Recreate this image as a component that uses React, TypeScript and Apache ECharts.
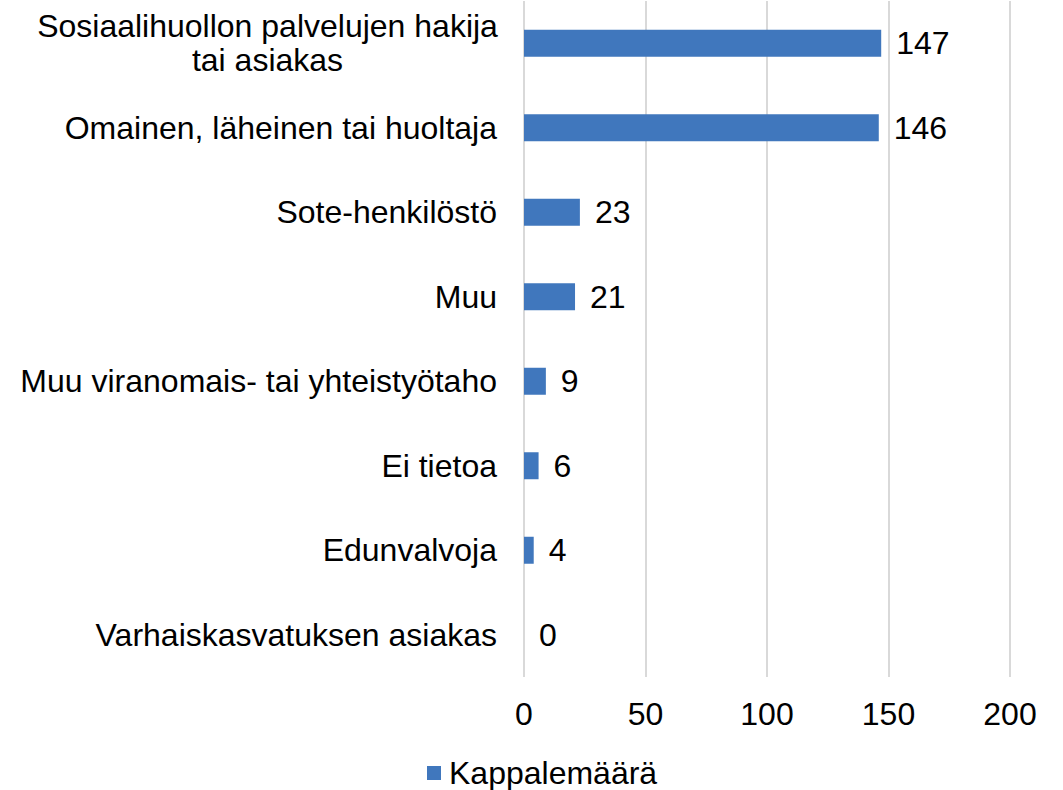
import React, { useEffect, useRef } from "react";
import * as echarts from "echarts";

const categories = [
  "Sosiaalihuollon palvelujen hakija\ntai asiakas",
  "Omainen, läheinen tai huoltaja",
  "Sote-henkilöstö",
  "Muu",
  "Muu viranomais- tai yhteistyötaho",
  "Ei tietoa",
  "Edunvalvoja",
  "Varhaiskasvatuksen asiakas",
];
const values = [147, 146, 23, 21, 9, 6, 4, 0];
const seriesName = "Kappalemäärä";
const xMin = 0;
const xMax = 200;
const xInterval = 50;

const FONT = "'Liberation Sans', Arial, sans-serif";
const FS = 32;

export default function App() {
  const ref = useRef<HTMLDivElement>(null);
  useEffect(() => {
    if (!ref.current) return;
    const chart = echarts.init(ref.current, null, { renderer: "svg" });
    chart.setOption({
      animation: false,
      backgroundColor: "#ffffff",
      textStyle: { fontFamily: FONT },
      grid: { left: 524, right: 53, top: 1, bottom: 113, containLabel: false },
      legend: {
        left: 422,
        top: 752,
        icon: "rect",
        itemWidth: 14,
        itemHeight: 14,
        itemGap: 10,
        textStyle: { fontSize: FS, color: "#000", fontFamily: FONT, padding: [0, 0, 0, 3] },
        data: [seriesName],
      },
      xAxis: {
        type: "value",
        min: xMin,
        max: xMax,
        interval: xInterval,
        axisLine: { show: false },
        axisTick: { show: false },
        splitLine: { show: true, lineStyle: { color: "#d9d9d9", width: 2 } },
        axisLabel: { fontSize: FS, color: "#000", margin: 21, fontFamily: FONT },
      },
      yAxis: {
        type: "category",
        inverse: true,
        data: categories,
        axisLine: { show: false },
        axisTick: { show: false },
        axisLabel: {
          fontSize: FS,
          color: "#000",
          margin: 27,
          fontFamily: FONT,
          formatter: (v: string) => {
            if (v.indexOf("\n") >= 0) {
              return v
                .split("\n")
                .map((l) => "{c|" + l + "}")
                .join("\n");
            }
            return v;
          },
          rich: {
            c: {
              width: 459,
              align: "center",
              fontSize: FS,
              color: "#000",
              fontFamily: FONT,
              lineHeight: 34,
            },
          },
        },
      },
      series: [
        {
          name: seriesName,
          type: "bar",
          data: values,
          barWidth: 27,
          itemStyle: { color: "#4077BD" },
          label: {
            show: true,
            position: "right",
            distance: 15,
            fontSize: FS,
            color: "#000",
            fontFamily: FONT,
          },
        },
      ],
    });
    return () => chart.dispose();
  }, []);
  return (
    <div
      ref={ref}
      style={{ position: "fixed", left: 0, top: 0, width: 1063, height: 790 }}
    />
  );
}
